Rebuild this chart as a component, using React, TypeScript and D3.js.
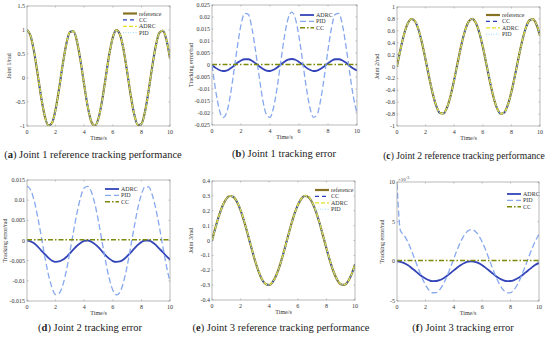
import { line, curveMonotoneX, scaleLinear } from "d3";

// sample times (s)
const TIME = [
  0, 0.25, 0.5, 0.75, 1, 1.25, 1.5, 1.75, 2, 2.25, 2.5, 2.75, 3, 3.25, 3.5, 3.75, 4, 4.25, 4.5, 4.75,
  5, 5.25, 5.5, 5.75, 6, 6.25, 6.5, 6.75, 7, 7.25, 7.5, 7.75, 8, 8.25, 8.5, 8.75, 9, 9.25, 9.5, 9.75, 10,
];
const CC_TIME = [0, 1, 2, 3, 4, 5, 6, 7, 8, 9, 10];
const X_TICKS = [0, 2, 4, 6, 8, 10];

// joint 1
const J1_REF = [
  1, 0.878, 0.54, 0.071, -0.416, -0.801, -0.99, -0.936, -0.654, -0.211, 0.284, 0.709, 0.96, 0.977,
  0.754, 0.347, -0.146, -0.602, -0.911, -0.997, -0.839, -0.476, 0.004, 0.483, 0.844, 0.998, 0.907,
  0.595, 0.137, -0.355, -0.76, -0.979, -0.958, -0.703, -0.275, 0.22, 0.66, 0.938, 0.989, 0.796, 0.408,
];
const J1_ERR_ADRC = [
  0, -0.0012, -0.0021, -0.0025, -0.0023, -0.0015, -0.0004, 0.0009, 0.0019, 0.0024, 0.0024, 0.0018,
  0.0007, -0.0005, -0.0016, -0.0023, -0.0025, -0.002, -0.001, 0.0002, 0.0014, 0.0022, 0.0025, 0.0022,
  0.0013, 0.0002, -0.0011, -0.002, -0.0025, -0.0023, -0.0016, -0.0005, 0.0007, 0.0018, 0.0024, 0.0024,
  0.0019, 0.0009, -0.0004, -0.0015, -0.0023,
];
const J1_ERR_PID = [
  0, -0.0105, -0.0185, -0.0219, -0.02, -0.0132, -0.0031, 0.0077, 0.0167, 0.0215, 0.0211, 0.0155,
  0.0061, -0.0047, -0.0145, -0.0206, -0.0218, -0.0176, -0.0091, 0.0017, 0.012, 0.0194, 0.022, 0.0193,
  0.0118, 0.0015, -0.0092, -0.0177, -0.0218, -0.0206, -0.0143, -0.0046, 0.0063, 0.0157, 0.0211, 0.0215,
  0.0165, 0.0075, -0.0033, -0.0133, -0.0201,
];
const J1_ERR_CC = [0.0002, 0.0002, 0.0002, 0.0002, 0.0002, 0.0002, 0.0002, 0.0002, 0.0002, 0.0002, 0.0002];

// joint 2
const J2_REF = [
  0, 0.293, 0.546, 0.722, 0.798, 0.763, 0.622, 0.395, 0.113, -0.185, -0.458, -0.665, -0.782, -0.79,
  -0.687, -0.49, -0.223, 0.074, 0.36, 0.597, 0.75, 0.8, 0.738, 0.574, 0.33, 0.04, -0.255, -0.516,
  -0.704, -0.794, -0.774, -0.646, -0.43, -0.152, 0.146, 0.424, 0.643, 0.773, 0.795, 0.706, 0.52,
];
const J2_ERR_ADRC = [
  0, -0.0002, -0.0007, -0.0015, -0.0025, -0.0034, -0.0043, -0.005, -0.0053, -0.0052, -0.0048, -0.0041,
  -0.0032, -0.0022, -0.0013, -0.0006, -0.0001, 0, -0.0003, -0.0009, -0.0017, -0.0027, -0.0037, -0.0045,
  -0.0051, -0.0053, -0.0052, -0.0047, -0.0039, -0.003, -0.002, -0.0011, -0.0004, 0, 0, -0.0004, -0.0011,
  -0.002, -0.0029, -0.0039, -0.0047,
];
const J2_ERR_PID = [
  0.0135, 0.0126, 0.0099, 0.0058, 0.001, -0.0041, -0.0085, -0.0117, -0.0134, -0.0131, -0.0111, -0.0075,
  -0.0028, 0.0022, 0.0069, 0.0107, 0.013, 0.0134, 0.0121, 0.009, 0.0047, -0.0003, -0.0052, -0.0094,
  -0.0123, -0.0135, -0.0128, -0.0103, -0.0064, -0.0016, 0.0034, 0.008, 0.0114, 0.0133, 0.0133, 0.0114,
  0.008, 0.0035, -0.0015, -0.0063, -0.0103,
];
const J2_ERR_CC = [0.0002, 0.0002, 0.0002, 0.0002, 0.0002, 0.0002, 0.0002, 0.0002, 0.0002, 0.0002, 0.0002];

// joint 3
const J3_REF = [
  0, 0.089, 0.17, 0.235, 0.28, 0.299, 0.292, 0.259, 0.203, 0.128, 0.042, -0.047, -0.133, -0.206, -0.262,
  -0.293, -0.299, -0.278, -0.232, -0.165, -0.084, 0.005, 0.094, 0.174, 0.238, 0.281, 0.3, 0.291, 0.257,
  0.199, 0.124, 0.037, -0.052, -0.137, -0.21, -0.264, -0.294, -0.298, -0.276, -0.229, -0.161,
];
const J3_ERR_ADRC = [
  0, -0.00006, -0.00022, -0.00047, -0.0008, -0.00116, -0.00153, -0.00188, -0.00217, -0.00238, -0.00249,
  -0.00248, -0.00237, -0.00216, -0.00186, -0.00151, -0.00114, -0.00078, -0.00046, -0.00021, -0.00005, 0,
  -0.00006, -0.00023, -0.00049, -0.00082, -0.00118, -0.00155, -0.0019, -0.00219, -0.00239, -0.00249,
  -0.00248, -0.00236, -0.00214, -0.00185, -0.00149, -0.00112, -0.00076, -0.00044, -0.0002,
];
const J3_ERR_PID = [
  0.0098, 0.00382, 0.0033, 0.00249, 0.00145, 0.00028, -0.00091, -0.00202, -0.00295, -0.00362, -0.00396,
  -0.00395, -0.00359, -0.0029, -0.00196, -0.00084, 0.00035, 0.00151, 0.00254, 0.00334, 0.00384, 0.004,
  0.0038, 0.00326, 0.00243, 0.00139, 0.00022, -0.00097, -0.00208, -0.003, -0.00364, -0.00397, -0.00394,
  -0.00356, -0.00286, -0.0019, -0.00078, 0.00042, 0.00157, 0.00259, 0.00338,
];
const J3_ERR_CC = [0.0001, 0.0001, 0.0001, 0.0001, 0.0001, 0.0001, 0.0001, 0.0001, 0.0001, 0.0001, 0.0001];

type Style = { stroke: string; width: number; dash?: string };
type Series = { label: string; x: number[]; y: number[]; style: Style };

const S_REF: Style = { stroke: "#857222", width: 2.2 };
const S_CC_T: Style = { stroke: "#2a3fc0", width: 1.1, dash: "4,3" };
const S_ADRC_T: Style = { stroke: "#e6e020", width: 1.2, dash: "4,2" };
const S_PID_T: Style = { stroke: "#9adcff", width: 1, dash: "1,1.5" };
const S_ADRC_E: Style = { stroke: "#3344b8", width: 1.8 };
const S_PID_E: Style = { stroke: "#86a8ee", width: 1.3, dash: "6,3" };
const S_CC_E: Style = { stroke: "#7d8a08", width: 1.5, dash: "5,2,1.5,2" };

const minus = (a: number[], b: number[]) => a.map((v, i) => v - b[i]);

function trackingSeries(ref: number[], adrc: number[], pid: number[]): Series[] {
  return [
    { label: "reference", x: TIME, y: ref, style: S_REF },
    { label: "CC", x: TIME, y: ref, style: S_CC_T },
    { label: "ADRC", x: TIME, y: minus(ref, adrc), style: S_ADRC_T },
    { label: "PID", x: TIME, y: minus(ref, pid), style: S_PID_T },
  ];
}

function errorSeries(adrc: number[], pid: number[], cc: number[]): Series[] {
  return [
    { label: "ADRC", x: TIME, y: adrc, style: S_ADRC_E },
    { label: "PID", x: TIME, y: pid, style: S_PID_E },
    { label: "CC", x: CC_TIME, y: cc, style: S_CC_E },
  ];
}

type PanelProps = {
  box: { left: number; right: number; top: number; bottom: number };
  yDomain: [number, number];
  yTicks: number[];
  fmt: (v: number) => string;
  yLabel: string;
  yLabelX: number;
  series: Series[];
  legendOrder: string[];
  legend: { x: number; y: number };
  tag: string;
  caption: string;
  capX: number;
  capY: number;
  capSize?: number;
  exponent?: boolean;
};

const FONT = "'Liberation Serif', 'Times New Roman', serif";

function Panel(p: PanelProps) {
  const { left, right, top, bottom } = p.box;
  const x = scaleLinear().domain([0, 10]).range([left, right]);
  const y = scaleLinear().domain(p.yDomain).range([bottom, top]);
  const gen = (s: Series) =>
    line<number>()
      .x((_, i) => x(s.x[i]))
      .y((v) => y(v))
      .curve(curveMonotoneX)(s.y) ?? "";
  const clipId = `clip-${p.tag}`;
  const legendItems = p.legendOrder.map((l) => p.series.find((s) => s.label === l)!);
  return (
    <g>
      <clipPath id={clipId}>
        <rect x={left} y={top} width={right - left} height={bottom - top} />
      </clipPath>
      <g clipPath={`url(#${clipId})`}>
        {p.series.map((s) => (
          <path
            key={s.label}
            d={gen(s)}
            fill="none"
            stroke={s.style.stroke}
            strokeWidth={s.style.width}
            strokeDasharray={s.style.dash}
          />
        ))}
      </g>
      <rect x={left} y={top} width={right - left} height={bottom - top} fill="none" stroke="#8a8a8a" strokeWidth={0.6} />
      {X_TICKS.map((t) => (
        <g key={`x${t}`}>
          <line x1={x(t)} x2={x(t)} y1={bottom} y2={bottom - 1.5} stroke="#8a8a8a" strokeWidth={0.5} />
          <line x1={x(t)} x2={x(t)} y1={top} y2={top + 1.5} stroke="#8a8a8a" strokeWidth={0.5} />
          <text x={x(t)} y={bottom + 8} fontSize={6} textAnchor="middle" fill="#333">
            {t}
          </text>
        </g>
      ))}
      {p.yTicks.map((t) => (
        <g key={`y${t}`}>
          <line x1={left} x2={left + 1.5} y1={y(t)} y2={y(t)} stroke="#8a8a8a" strokeWidth={0.5} />
          <line x1={right} x2={right - 1.5} y1={y(t)} y2={y(t)} stroke="#8a8a8a" strokeWidth={0.5} />
          <text x={left - 2} y={y(t) + 2} fontSize={6} textAnchor="end" fill="#333">
            {p.fmt(t)}
          </text>
        </g>
      ))}
      {p.exponent && (
        <text x={left + 1} y={top - 1.5} fontSize={5} fill="#333">
          ×10<tspan dy={-2} fontSize={4}>-3</tspan>
        </text>
      )}
      <text x={(left + right) / 2} y={bottom + 14} fontSize={6} textAnchor="middle" fill="#333">
        Time/s
      </text>
      <text
        transform={`translate(${p.yLabelX},${(top + bottom) / 2}) rotate(-90)`}
        fontSize={6}
        textAnchor="middle"
        fill="#333"
      >
        {p.yLabel}
      </text>
      {legendItems.map((s, i) => {
        const ly = p.legend.y + i * 6.4;
        return (
          <g key={`lg${s.label}`}>
            <line
              x1={p.legend.x}
              x2={p.legend.x + 14}
              y1={ly}
              y2={ly}
              stroke={s.style.stroke}
              strokeWidth={s.style.width}
              strokeDasharray={s.style.dash}
            />
            <text x={p.legend.x + 16} y={ly + 2} fontSize={6} fill="#333">
              {s.label}
            </text>
          </g>
        );
      })}
      <text
        x={p.capX}
        y={p.capY}
        fontSize={p.capSize ?? 10.5}
        textAnchor="middle"
        fill="#222"
        fontFamily={FONT}
      >
        ({<tspan fontWeight="bold">{p.tag}</tspan>}) {p.caption}
      </text>
    </g>
  );
}

const num = (v: number) => String(+v.toFixed(4));

export default function App() {
  const ticks = (a: number, b: number, s: number) => {
    const out: number[] = [];
    for (let v = a; v <= b + 1e-9; v += s) out.push(+v.toFixed(4));
    return out;
  };
  return (
    <svg
      width={550}
      height={337}
      viewBox="0 0 550 337"
      style={{ position: "fixed", left: 0, top: 0, background: "#fff" }}
      fontFamily={FONT}
    >
      <rect width={550} height={337} fill="#fff" />
      <Panel
        box={{ left: 27, right: 170, top: 6, bottom: 126 }}
        yDomain={[-1, 1.5]}
        yTicks={ticks(-1, 1.5, 0.5)}
        fmt={num}
        yLabel="Joint 1/rad"
        yLabelX={11}
        series={trackingSeries(J1_REF, J1_ERR_ADRC, J1_ERR_PID)}
        legendOrder={["reference", "CC", "ADRC", "PID"]}
        legend={{ x: 123, y: 13.5 }}
        tag="a"
        caption="Joint 1 reference tracking performance"
        capX={93}
        capY={158}
      />
      <Panel
        box={{ left: 212, right: 357, top: 5, bottom: 125 }}
        yDomain={[-0.025, 0.025]}
        yTicks={ticks(-0.025, 0.025, 0.005)}
        fmt={num}
        yLabel="Tracking error/rad"
        yLabelX={193}
        series={errorSeries(J1_ERR_ADRC, J1_ERR_PID, J1_ERR_CC)}
        legendOrder={["ADRC", "PID", "CC"]}
        legend={{ x: 300, y: 15 }}
        tag="b"
        caption="Joint 1 tracking error"
        capX={284}
        capY={157}
      />
      <Panel
        box={{ left: 397, right: 540, top: 7, bottom: 126 }}
        yDomain={[-1, 1]}
        yTicks={ticks(-1, 1, 0.2)}
        fmt={num}
        yLabel="Joint 2/rad"
        yLabelX={379}
        series={trackingSeries(J2_REF, J2_ERR_ADRC, J2_ERR_PID)}
        legendOrder={["reference", "CC", "ADRC", "PID"]}
        legend={{ x: 486, y: 15 }}
        tag="c"
        caption="Joint 2 reference tracking performance"
        capX={464}
        capY={159}
        capSize={9.6}
      />
      <Panel
        box={{ left: 27, right: 170, top: 180, bottom: 301 }}
        yDomain={[-0.015, 0.015]}
        yTicks={ticks(-0.015, 0.015, 0.005)}
        fmt={num}
        yLabel="Tracking error/rad"
        yLabelX={7}
        series={errorSeries(J2_ERR_ADRC, J2_ERR_PID, J2_ERR_CC)}
        legendOrder={["ADRC", "PID", "CC"]}
        legend={{ x: 105, y: 189 }}
        tag="d"
        caption="Joint 2 tracking error"
        capX={90}
        capY={331}
      />
      <Panel
        box={{ left: 212, right: 355, top: 181, bottom: 300 }}
        yDomain={[-0.4, 0.4]}
        yTicks={ticks(-0.4, 0.4, 0.1)}
        fmt={num}
        yLabel="Joint 3/rad"
        yLabelX={193}
        series={trackingSeries(J3_REF, J3_ERR_ADRC, J3_ERR_PID)}
        legendOrder={["reference", "CC", "ADRC", "PID"]}
        legend={{ x: 315, y: 190 }}
        tag="e"
        caption="Joint 3 reference tracking performance"
        capX={281}
        capY={331}
      />
      <Panel
        box={{ left: 397, right: 539, top: 182, bottom: 301 }}
        yDomain={[-0.005, 0.01]}
        yTicks={[-0.005, 0, 0.005, 0.01]}
        fmt={(v) => num(v * 1000)}
        yLabel="Tracking error/rad"
        yLabelX={384}
        series={errorSeries(J3_ERR_ADRC, J3_ERR_PID, J3_ERR_CC)}
        legendOrder={["ADRC", "PID", "CC"]}
        legend={{ x: 507, y: 194 }}
        tag="f"
        caption="Joint 3 tracking error"
        capX={463}
        capY={331}
        exponent
      />
    </svg>
  );
}
